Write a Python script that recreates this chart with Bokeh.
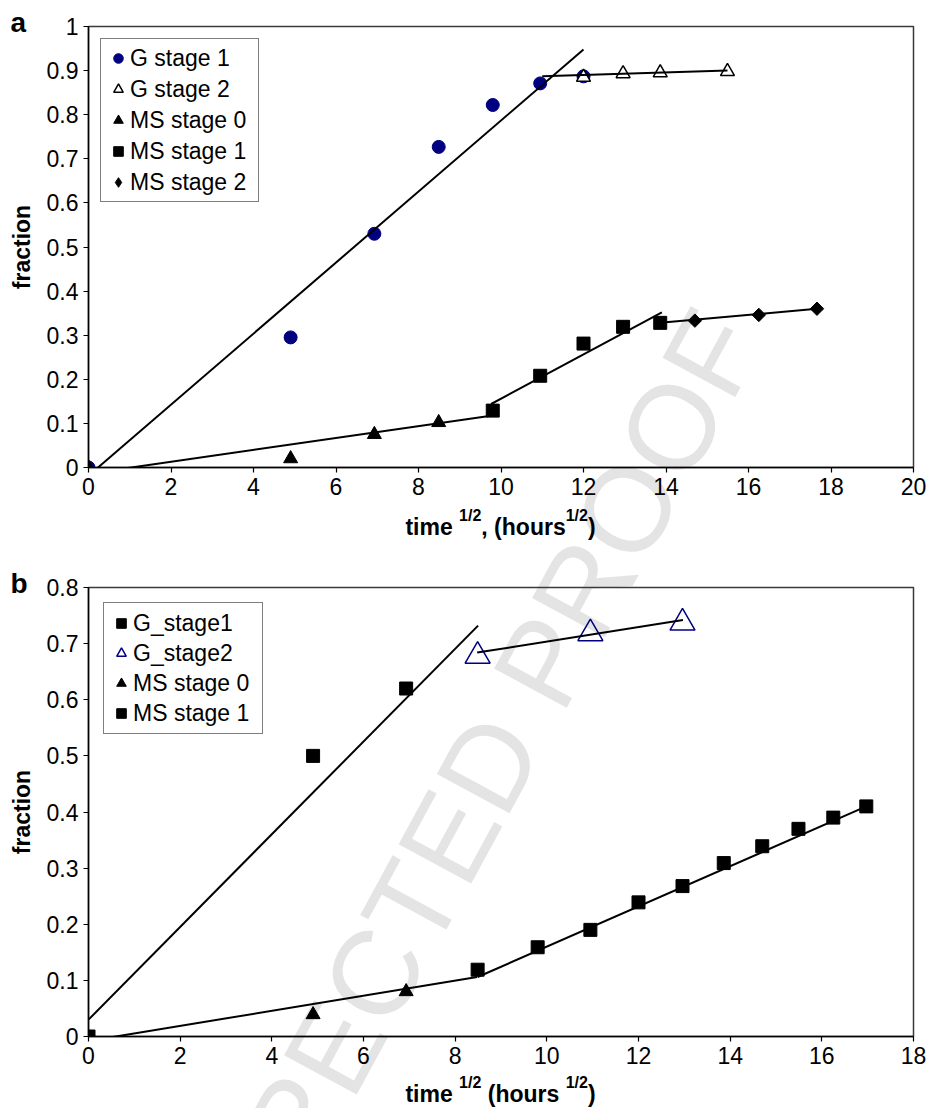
import math
from bokeh.plotting import figure
from bokeh.models import Range1d, FixedTicker
from bokeh.layouts import column
from bokeh.core.properties import value
from bokeh.embed import file_html
from bokeh.resources import INLINE

# ---------------- Panel a data ----------------
a_g1_x = [0.0, 4.90, 6.93, 8.49, 9.80, 10.95, 12.00]
a_g1_y = [0.0, 0.295, 0.530, 0.727, 0.822, 0.871, 0.887]
a_g2_x = [12.00, 12.96, 13.86, 15.49]
a_g2_y = [0.885, 0.893, 0.895, 0.898]
a_ms0_x = [0.0, 4.90, 6.93, 8.49]
a_ms0_y = [0.0, 0.020, 0.075, 0.102]
a_ms1_x = [9.80, 10.95, 12.00, 12.96, 13.86]
a_ms1_y = [0.129, 0.208, 0.281, 0.319, 0.328]
a_ms2_x = [14.70, 16.25, 17.66]
a_ms2_y = [0.333, 0.346, 0.360]

# fitted trend lines (panel a)
a_fit_g1_x = [0.0, 12.0]
a_fit_g1_y = [-0.0186, 0.948]
a_fit_g2_x = [11.0, 15.49]
a_fit_g2_y = [0.887, 0.900]
a_fit_ms0_x = [0.0, 9.80]
a_fit_ms0_y = [-0.014, 0.118]
a_fit_ms1_x = [9.76, 13.90]
a_fit_ms1_y = [0.144, 0.352]
a_fit_ms2_x = [13.86, 17.66]
a_fit_ms2_y = [0.328, 0.360]

a_x_ticks = [0, 2, 4, 6, 8, 10, 12, 14, 16, 18, 20]
a_y_ticks = [0, 0.1, 0.2, 0.3, 0.4, 0.5, 0.6, 0.7, 0.8, 0.9, 1.0]
a_y_labels = ["0", "0.1", "0.2", "0.3", "0.4", "0.5", "0.6", "0.7", "0.8", "0.9", "1"]

# ---------------- Panel b data ----------------
b_g1_x = [0.0, 4.90, 6.93]
b_g1_y = [0.0, 0.500, 0.620]
b_g2_x = [8.49, 10.95, 12.96]
b_g2_y = [0.678, 0.718, 0.737]
b_ms0_x = [4.90, 6.93]
b_ms0_y = [0.039, 0.080]
b_ms1_x = [8.49, 9.80, 10.95, 12.00, 12.96, 13.86, 14.70, 15.49, 16.25, 16.97]
b_ms1_y = [0.119, 0.159, 0.190, 0.239, 0.268, 0.309, 0.339, 0.370, 0.390, 0.410]

b_fit_g1_x = [0.0, 8.50]
b_fit_g1_y = [0.030, 0.732]
b_fit_g2_x = [8.48, 12.97]
b_fit_g2_y = [0.684, 0.742]
b_fit_ms0_x = [0.0, 8.48]
b_fit_ms0_y = [-0.008, 0.106]
b_fit_ms1_x = [8.49, 16.97]
b_fit_ms1_y = [0.106, 0.410]

b_x_ticks = [0, 2, 4, 6, 8, 10, 12, 14, 16, 18]
b_y_ticks = [0, 0.1, 0.2, 0.3, 0.4, 0.5, 0.6, 0.7, 0.8]
b_y_labels = ["0", "0.1", "0.2", "0.3", "0.4", "0.5", "0.6", "0.7", "0.8"]

# texts
panel_a_tag = "a"
panel_b_tag = "b"
xlabel_a_parts = ["time ", "1/2", ", (hours", "1/2", ")"]
xlabel_b_parts = ["time ", "1/2", " (hours ", "1/2", ")"]
watermark_text = "CORRECTED PROOF"

FONT = "Liberation Sans"
NAVY = "#000080"
WM_COLOR = "#e4e4e4"
W, H = 928, 1108

# Arial/Liberation Sans Bold advance widths (em)
BOLD_W = {'t': .333, 'i': .278, 'm': .889, 'e': .556, ' ': .278, ',': .278,
          '(': .333, 'h': .611, 'o': .611, 'u': .611, 'r': .389, 's': .556,
          ')': .333, '1': .556, '/': .278, '2': .556}
MID = 0.35  # em-box middle above the alphabetic baseline


def text_w(s, size):
    return sum(BOLD_W.get(c, 0.556) for c in s) * size


# ---------------- background canvas (watermark + free texts) ----------------
# separate root, pinned to the page's top-left corner, behind the chart panels
bg = figure(width=W, height=H, output_backend="svg", toolbar_location=None,
            tools="", title=None, x_range=Range1d(0, W), y_range=Range1d(0, H),
            x_axis_location=None, y_axis_location=None,
            min_border_left=0, min_border_right=0, min_border_top=0,
            min_border_bottom=0)
bg.grid.visible = False
bg.outline_line_color = None
bg.background_fill_color = "white"
bg.border_fill_color = "white"
bg.styles = {"position": "absolute", "top": "0px", "left": "0px",
             "z-index": "-1"}


def bg_text(X, Ybase, text, size, bold=True, align="left", color="black",
            angle=0.0):
    # Ybase: alphabetic baseline (page px from top); drawn with a middle anchor
    bg.text(x=[X], y=[H - (Ybase - MID * size)], text=[text],
            text_font=value(FONT), text_font_size=f"{size}px",
            text_font_style="bold" if bold else "normal",
            text_color=color, text_align=align, text_baseline="middle",
            angle=angle)


# watermark (centre given directly as the em-box middle)
bg.text(x=[437], y=[H - 857], text=[watermark_text], text_font=value(FONT),
        text_font_size="120px", text_color=WM_COLOR, text_align="center",
        text_baseline="middle", angle=math.radians(61.5))


def add_xlabel(parts, center_x, base_y, big=23, small=16, rise=14):
    sizes = [big, small, big, small, big]
    rises = [0, rise, 0, rise, 0]
    total = sum(text_w(t, s) for t, s in zip(parts, sizes))
    x = center_x - total / 2
    for t, s, r in zip(parts, sizes, rises):
        core = t.strip()
        lead = len(t) - len(t.lstrip())
        trail = len(t) - len(t.rstrip())
        x += lead * BOLD_W[' '] * s
        bg_text(x, base_y - r, core, s)
        x += text_w(core, s) + trail * BOLD_W[' '] * s


add_xlabel(xlabel_a_parts, 500, 535)
add_xlabel(xlabel_b_parts, 500, 1102)
bg_text(10, 32, panel_a_tag, 28)
bg_text(10, 593, panel_b_tag, 28)


def make_fig(width, height, L, R, T, B, xr, yr, fig_top):
    p = figure(width=width, height=height, output_backend="svg",
               toolbar_location=None, tools="", title=None,
               x_range=Range1d(*xr), y_range=Range1d(*yr))
    p.min_border_left = L
    p.min_border_right = width - R
    p.min_border_top = T - fig_top
    p.min_border_bottom = fig_top + height - B
    p.xgrid.visible = False
    p.ygrid.visible = False
    p.background_fill_color = None
    p.border_fill_color = None
    p.outline_line_color = "#3a3a3a"
    p.outline_line_width = 1.5
    for ax in (p.xaxis[0], p.yaxis[0]):
        ax.axis_line_color = "black"
        ax.axis_line_width = 1.5
        ax.major_tick_line_color = "black"
        ax.major_tick_line_width = 1.2
        ax.major_tick_in = 0
        ax.major_tick_out = 5
        ax.minor_tick_line_color = None
        ax.major_label_text_font = FONT
        ax.major_label_text_font_size = "23px"
        ax.major_label_text_color = "black"
    p.xaxis[0].major_label_standoff = 5
    p.yaxis[0].major_label_standoff = 5
    p.yaxis[0].axis_label = "fraction"
    p.yaxis[0].axis_label_text_font = FONT
    p.yaxis[0].axis_label_text_font_style = "bold"
    p.yaxis[0].axis_label_text_font_size = "23px"
    p.yaxis[0].axis_label_text_color = "black"
    p.yaxis[0].axis_label_standoff = 9
    return p


def style_legend(p, margin, spacing, glyph_h, label_w):
    lg = p.legend[0]
    lg.location = "top_left"
    lg.margin = margin
    lg.padding = 5
    lg.spacing = spacing
    lg.glyph_width = 24
    lg.glyph_height = glyph_h
    lg.label_height = glyph_h
    lg.label_width = label_w
    lg.label_standoff = 0
    lg.label_text_font = FONT
    lg.label_text_font_size = "23px"
    lg.label_text_color = "black"
    lg.border_line_color = "black"
    lg.border_line_width = 1
    lg.background_fill_color = "white"
    lg.background_fill_alpha = 1.0


def set_ticks(p, xt, yt, ylab):
    p.xaxis[0].ticker = FixedTicker(ticks=xt)
    p.yaxis[0].ticker = FixedTicker(ticks=yt)
    p.yaxis[0].major_label_overrides = {k: v for k, v in zip(yt, ylab)}


# ---------------- Figure a ----------------
pa = make_fig(W, 550, 87, 913, 26, 467, (0, 20), (0, 1), 0)
set_ticks(pa, a_x_ticks, a_y_ticks, a_y_labels)

pa.scatter(a_g1_x, a_g1_y, marker="circle", size=13, fill_color=NAVY,
           line_color=NAVY, legend_label="G stage 1")
pa.scatter(a_g2_x, a_g2_y, marker="triangle", size=14, fill_color="white",
           line_color="black", line_width=1.5, legend_label="G stage 2")
pa.scatter(a_ms0_x, a_ms0_y, marker="triangle", size=14, fill_color="black",
           line_color="black", legend_label="MS stage 0")
pa.scatter(a_ms1_x, a_ms1_y, marker="square", size=13, fill_color="black",
           line_color="black", legend_label="MS stage 1")
# diamonds drawn as rotated squares; a zero-size diamond series gives the legend key
pa.scatter(a_ms2_x, a_ms2_y, marker="square", angle=math.pi / 4, size=9.5,
           fill_color="black", line_color="black")
pa.scatter(a_ms2_x, a_ms2_y, marker="diamond", size=0, fill_color="black",
           line_color="black", legend_label="MS stage 2")
for fx, fy in [(a_fit_g1_x, a_fit_g1_y), (a_fit_g2_x, a_fit_g2_y),
               (a_fit_ms0_x, a_fit_ms0_y), (a_fit_ms1_x, a_fit_ms1_y),
               (a_fit_ms2_x, a_fit_ms2_y)]:
    pa.line(fx, fy, line_color="black", line_width=2)
style_legend(pa, 12, 3, 28, 123)

# ---------------- Figure b ----------------
pb = make_fig(W, 558, 88, 913, 587, 1036, (0, 18), (0, 0.8), 550)
set_ticks(pb, b_x_ticks, b_y_ticks, b_y_labels)

pb.scatter(b_g1_x, b_g1_y, marker="square", size=13, fill_color="black",
           line_color="black", legend_label="G_stage1")
pb.scatter(b_g2_x, b_g2_y, marker="triangle", size=25, fill_color=None,
           line_color=NAVY, line_width=1.5, legend_label="G_stage2")
pb.scatter(b_ms0_x, b_ms0_y, marker="triangle", size=14, fill_color="black",
           line_color="black", legend_label="MS stage 0")
pb.scatter(b_ms1_x, b_ms1_y, marker="square", size=13, fill_color="black",
           line_color="black", legend_label="MS stage 1")
for fx, fy in [(b_fit_g1_x, b_fit_g1_y), (b_fit_g2_x, b_fit_g2_y),
               (b_fit_ms0_x, b_fit_ms0_y), (b_fit_ms1_x, b_fit_ms1_y)]:
    pb.line(fx, fy, line_color="black", line_width=2)
style_legend(pb, 15, 0, 30, 124)

layout = column(pa, pb, spacing=0)
open("out.html", "w").write(file_html([bg, layout], INLINE))
